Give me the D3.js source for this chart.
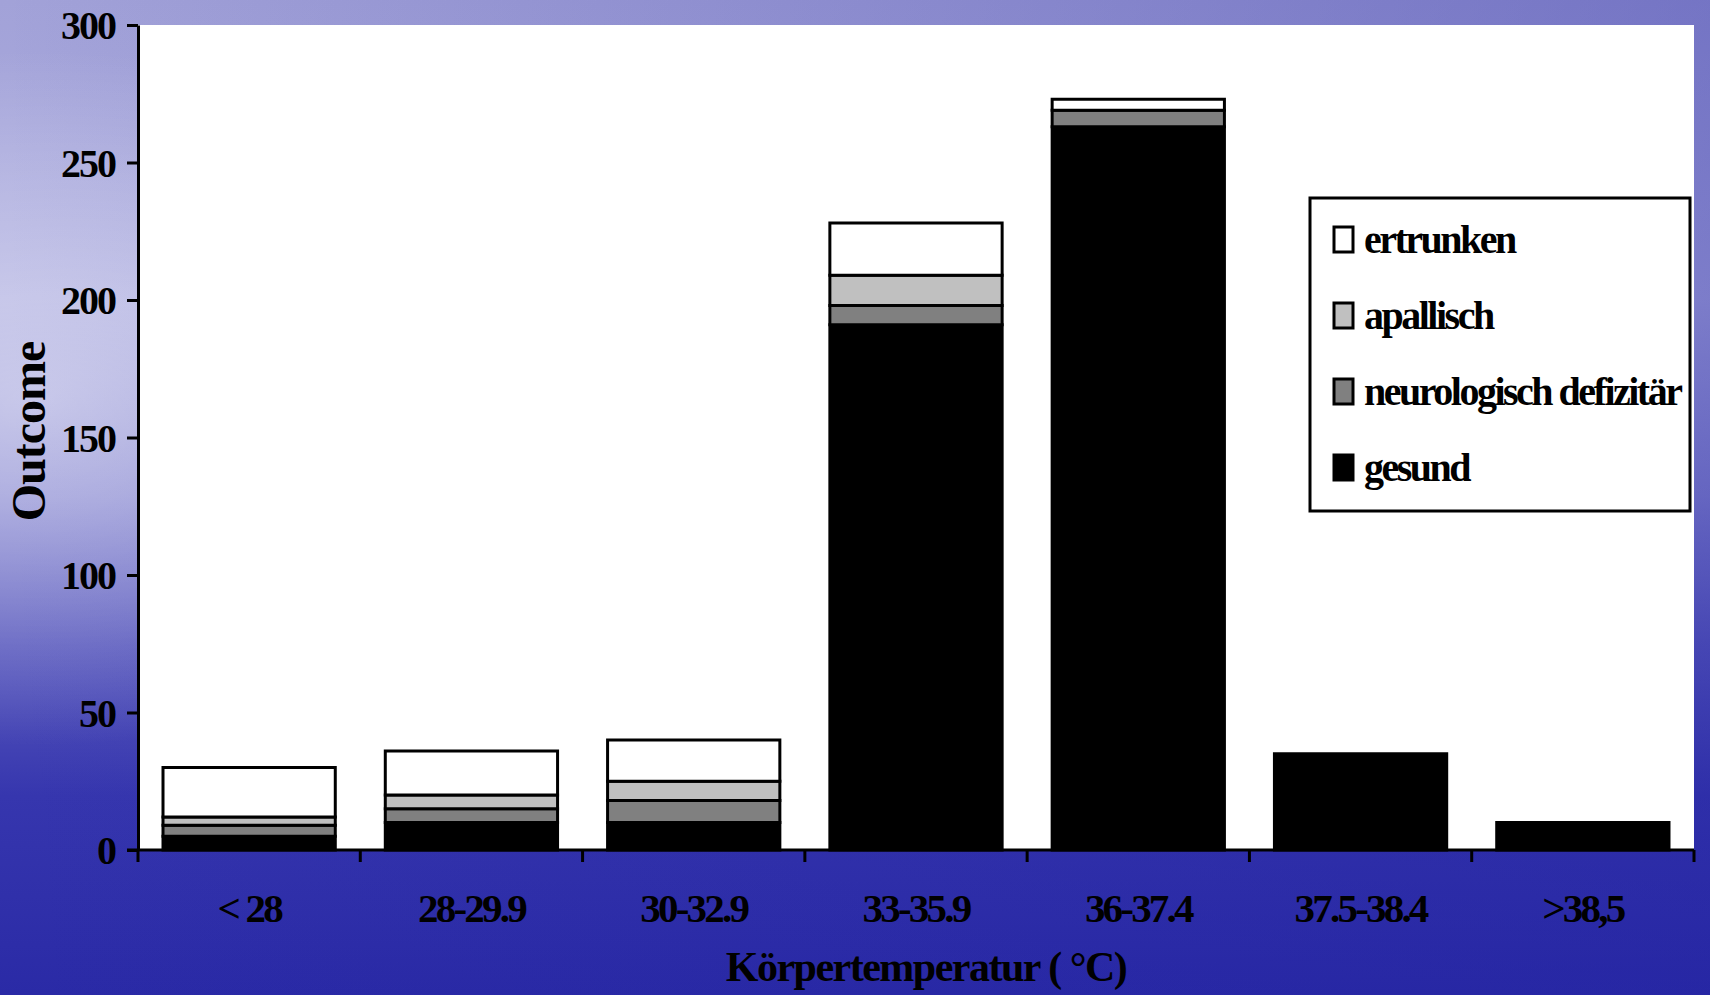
<!DOCTYPE html>
<html>
<head>
<meta charset="utf-8">
<script src="https://cdn.jsdelivr.net/npm/d3@7"></script>
<style>
  body { margin: 0; overflow: hidden; }
  text { font-family: "Liberation Serif", "Times New Roman", serif; font-weight: bold; fill: #000; }
</style>
</head>
<body>
<div id="chart"></div>
<script>
// values (counts per temperature class)
const categories = ["< 28", "28-29.9", "30-32.9", "33-35.9", "36-37.4", "37.5-38.4", ">38,5"];
const gesund     = [5, 10, 10, 191, 263, 35, 10];
const neuro      = [4, 5, 8, 7, 6, 0, 0];
const apallisch  = [3, 5, 7, 11, 0, 0, 0];
const ertrunken  = [18, 16, 15, 19, 4, 0, 0];
const yTicks = [0, 50, 100, 150, 200, 250, 300];

const keys = ["gesund", "neuro", "apallisch", "ertrunken"];
const colors = { gesund: "#000000", neuro: "#808080", apallisch: "#c0c0c0", ertrunken: "#ffffff" };
const legendNames = { ertrunken: "ertrunken", apallisch: "apallisch", neuro: "neurologisch defizitär", gesund: "gesund" };

const W = 1710, H = 995;
const plotLeft = 138, plotRight = 1694, plotTop = 25, plotBottom = 850;

const svg = d3.select('#chart').append('svg')
    .attr('width', W)
    .attr('height', H);

// background - watery blue gradient
const defs = svg.append('defs');
const bg = defs.append('linearGradient').attr('id', 'bg').attr('x1', 0).attr('y1', 0).attr('x2', 0).attr('y2', 1);
[[0, '#a2a2d8'], [0.3, '#aeaee0'], [0.5, '#8a8ad2'], [0.65, '#5a5abe'], [0.8, '#3636ae'], [1, '#2a2aa6']]
  .forEach(s => bg.append('stop').attr('offset', s[0]).attr('stop-color', s[1]));
const glow = defs.append('radialGradient').attr('id', 'glow')
    .attr('cx', 0.02).attr('cy', 0.4).attr('r', 0.35);
glow.append('stop').attr('offset', 0).attr('stop-color', '#ffffff').attr('stop-opacity', 0.45);
glow.append('stop').attr('offset', 1).attr('stop-color', '#ffffff').attr('stop-opacity', 0);
const side = defs.append('linearGradient').attr('id', 'side').attr('x1', 0).attr('y1', 0).attr('x2', 1).attr('y2', 0);
side.append('stop').attr('offset', 0).attr('stop-color', '#2020a0').attr('stop-opacity', 0);
side.append('stop').attr('offset', 1).attr('stop-color', '#2020a0').attr('stop-opacity', 0.35);

svg.append('rect').attr('width', W).attr('height', H).attr('fill', 'url(#bg)');
svg.append('rect').attr('width', W).attr('height', H).attr('fill', 'url(#side)');
svg.append('rect').attr('width', W).attr('height', H).attr('fill', 'url(#glow)');

// plot area
svg.append('rect')
    .attr('x', plotLeft).attr('y', plotTop)
    .attr('width', plotRight - plotLeft).attr('height', plotBottom - plotTop)
    .attr('fill', '#fff');

const x = d3.scaleBand()
    .domain(categories)
    .range([plotLeft, plotRight])
    .paddingInner(0.225)
    .paddingOuter(0.1125);

const y = d3.scaleLinear()
    .domain([0, 300])
    .range([plotBottom, plotTop]);

const table = categories.map((c, i) => ({
  cat: c, gesund: gesund[i], neuro: neuro[i], apallisch: apallisch[i], ertrunken: ertrunken[i]
}));
const series = d3.stack().keys(keys)(table);

svg.append('g').selectAll('g')
    .data(series)
    .enter()
    .append('g')
    .attr('fill', d => colors[d.key])
    .selectAll('rect')
    .data(d => d.filter(s => s[1] - s[0] > 0))
    .enter()
    .append('rect')
    .attr('x', d => x(d.data.cat))
    .attr('width', x.bandwidth())
    .attr('y', d => y(d[1]))
    .attr('height', d => y(d[0]) - y(d[1]))
    .attr('stroke', '#000')
    .attr('stroke-width', 3);

// y axis
const yAxis = svg.append('g')
    .attr('transform', 'translate(' + plotLeft + ',0)')
    .call(d3.axisLeft(y).tickValues(yTicks).tickSize(11).tickPadding(12).tickSizeOuter(0));
yAxis.select('.domain').attr('stroke', '#000').attr('stroke-width', 3);
yAxis.selectAll('.tick line').attr('stroke', '#000').attr('stroke-width', 3);
yAxis.selectAll('.tick text')
    .attr('font-size', 40)
    .attr('letter-spacing', '-2px')
    .attr('dy', '0.34em');

// x axis
const xAxis = svg.append('g')
    .attr('transform', 'translate(0,' + plotBottom + ')')
    .call(d3.axisBottom(x).tickSize(0).tickPadding(72).tickSizeOuter(0));
xAxis.select('.domain').remove();
xAxis.selectAll('.tick text')
    .attr('font-size', 41)
    .attr('letter-spacing', '-2.8px')
    .attr('dy', '0');

svg.append('line')
    .attr('x1', plotLeft - 11).attr('x2', plotRight)
    .attr('y1', plotBottom).attr('y2', plotBottom)
    .attr('stroke', '#000').attr('stroke-width', 3);

// boundary ticks between categories
const bounds = d3.range(categories.length + 1).map(i => plotLeft + i * x.step());
svg.append('g').selectAll('line')
    .data(bounds)
    .enter()
    .append('line')
    .attr('x1', d => d).attr('x2', d => d)
    .attr('y1', plotBottom).attr('y2', plotBottom + 12)
    .attr('stroke', '#000').attr('stroke-width', 3);

// axis titles
svg.append('text')
    .text('Körpertemperatur ( °C)')
    .attr('x', (plotLeft + plotRight) / 2 + 10)
    .attr('y', 981)
    .attr('text-anchor', 'middle')
    .attr('font-size', 42)
    .attr('letter-spacing', '-1.5px');

svg.append('text')
    .text('Outcome')
    .attr('transform', 'translate(45,' + ((plotTop + plotBottom) / 2 - 6) + ') rotate(-90)')
    .attr('text-anchor', 'middle')
    .attr('font-size', 48)
    .attr('letter-spacing', '-1px');

// legend
const legend = svg.append('g').attr('transform', 'translate(1310,198)');
legend.append('rect')
    .attr('width', 380).attr('height', 313)
    .attr('fill', '#fff')
    .attr('stroke', '#000').attr('stroke-width', 3);

const legendKeys = ["ertrunken", "apallisch", "neuro", "gesund"];
const items = legend.selectAll('.item')
    .data(legendKeys)
    .enter()
    .append('g')
    .attr('class', 'item')
    .attr('transform', (d, i) => 'translate(24,' + (29 + i * 76) + ')');
items.append('rect')
    .attr('width', 19).attr('height', 25)
    .attr('fill', d => colors[d])
    .attr('stroke', '#000').attr('stroke-width', 3);
items.append('text')
    .text(d => legendNames[d])
    .attr('x', 30)
    .attr('y', 26)
    .attr('font-size', 40)
    .attr('letter-spacing', '-2.5px');
</script>
</body>
</html>
